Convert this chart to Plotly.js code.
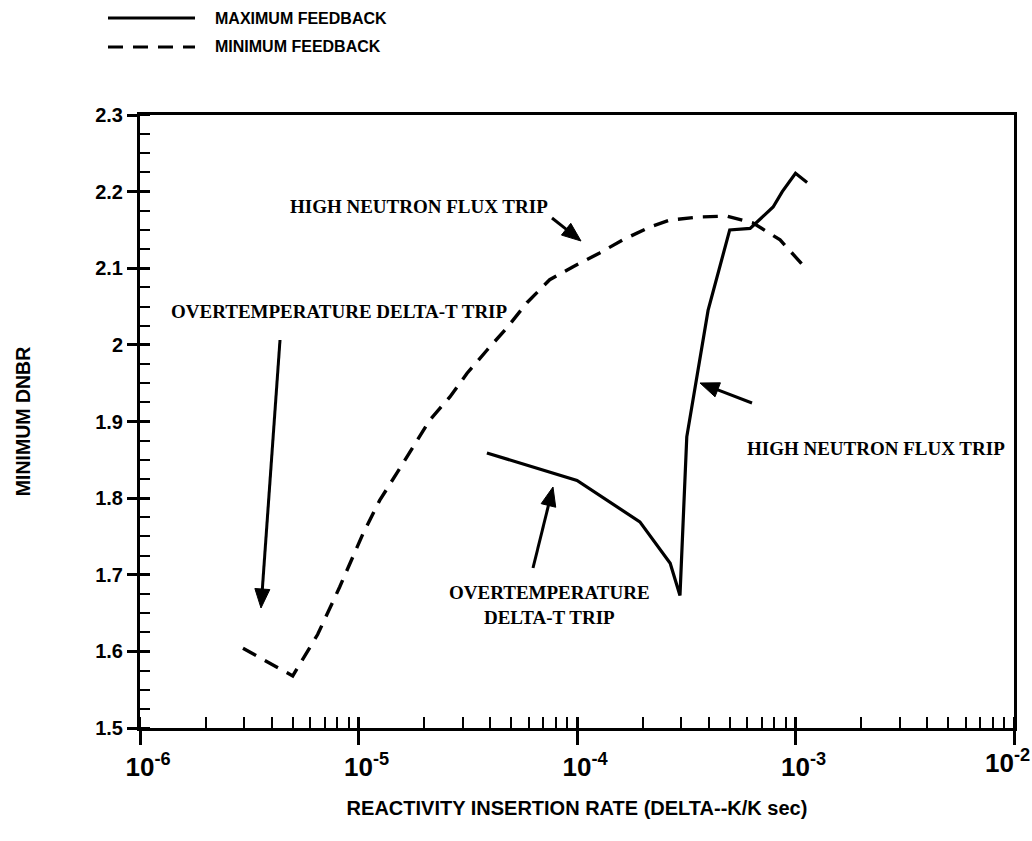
<!DOCTYPE html>
<html>
<head>
<meta charset="utf-8">
<script src="https://cdn.plot.ly/plotly-3.0.1.min.js"></script>
<style>html,body{margin:0;padding:0;background:#fff;}#chart{width:1032px;height:841px;}</style>
</head>
<body>
<div id="chart"></div>
<script>
// Reactivity insertion rate (delta-k/k per sec)
const minFeedbackRate = [2.96e-6, 5.0e-6, 6.5e-6, 8.2e-6, 1.05e-5, 1.25e-5, 1.5e-5, 1.77e-5, 2.12e-5, 2.62e-5, 3.14e-5, 3.87e-5, 4.8e-5, 5.9e-5, 7.5e-5, 9.6e-5, 1.27e-4, 1.62e-4, 2.16e-4, 2.67e-4, 3.66e-4, 4.86e-4, 6.4e-4, 8.5e-4, 1.13e-3];
const minFeedbackDNBR = [1.604, 1.568, 1.622, 1.684, 1.754, 1.797, 1.833, 1.867, 1.902, 1.932, 1.963, 1.993, 2.023, 2.055, 2.085, 2.102, 2.120, 2.137, 2.154, 2.163, 2.167, 2.168, 2.159, 2.137, 2.098];
const maxFeedbackRate = [3.87e-5, 1.0e-4, 1.94e-4, 2.67e-4, 2.96e-4, 3.18e-4, 3.98e-4, 5.0e-4, 6.2e-4, 7.9e-4, 8.7e-4, 1.0e-3, 1.13e-3];
const maxFeedbackDNBR = [1.859, 1.823, 1.769, 1.715, 1.673, 1.880, 2.045, 2.150, 2.152, 2.180, 2.200, 2.224, 2.212];
const seriesNames = ['MAXIMUM FEEDBACK', 'MINIMUM FEEDBACK'];
const noteLabels = ['HIGH NEUTRON FLUX TRIP', 'OVERTEMPERATURE DELTA-T TRIP', 'OVERTEMPERATURE<br>DELTA-T TRIP', 'HIGH NEUTRON FLUX TRIP'];
const xTickExponents = [-6, -5, -4, -3, -2];
const xTickLabels = ['10<sup>-6</sup>', '10<sup>-5</sup>', '10<sup>-4</sup>', '10<sup>-3</sup>', '10<sup>-2</sup>'];
const xRangeLog = [-6, -2];
const yRange = [1.5, 2.3];
const xTitle = 'REACTIVITY INSERTION RATE (DELTA--K/K sec)';
const yTitle = 'MINIMUM DNBR';

const sansFont = '"Liberation Sans", Arial, sans-serif';
const serifFont = '"Liberation Serif", "DejaVu Serif", serif';

const traces = [
  {x: maxFeedbackRate, y: maxFeedbackDNBR, name: seriesNames[0], mode: 'lines',
   line: {color: '#000', width: 3.2}, showlegend: false},
  {x: minFeedbackRate, y: minFeedbackDNBR, name: seriesNames[1], mode: 'lines',
   line: {color: '#000', width: 3.4, dash: '15px,10px'}, showlegend: false},
  {x: [], y: [], xaxis: 'x2', yaxis: 'y2', showlegend: false, hoverinfo: 'skip'}
];

const L = 140, R = 1014, T = 115, B = 728;
function px(p) { return (p - L) / (R - L); }
function py(p) { return (B - p) / (B - T); }

const annFontSerif = {family: serifFont, size: 19, color: '#000', weight: 'bold'};
const annFontSans = {family: sansFont, size: 16, color: '#000', weight: 'bold'};
const yTickFont = {family: sansFont, size: 20, color: '#000', weight: 'bold'};
const xTickFont = {family: sansFont, size: 26, color: '#000', weight: 'bold'};

const tickVals = xTickExponents.map(e => Math.pow(10, e));
const lastIdx = xTickLabels.length - 1;
const tickText = xTickLabels.map((t, i) => i === lastIdx ? '' : t);

const annotations = [
  {xref: 'x', yref: 'y', x: -4.723, y: 2.181, text: noteLabels[0], showarrow: false, font: annFontSerif},
  {xref: 'x', yref: 'y', x: -5.085, y: 2.044, text: noteLabels[1], showarrow: false, font: annFontSerif},
  {xref: 'x', yref: 'y', x: -4.124, y: 1.660, text: noteLabels[2], showarrow: false, font: annFontSerif},
  {xref: 'x', yref: 'y', x: -3.231, y: 1.865, xanchor: 'left', text: noteLabels[3], showarrow: false, font: annFontSerif},
  // last decade label, kept inside the page edge
  {xref: 'paper', yref: 'paper', x: px(1031), y: py(744), xanchor: 'right', yanchor: 'top', text: xTickLabels[lastIdx], showarrow: false, font: xTickFont, borderpad: 0},
  // legend texts
  {xref: 'paper', yref: 'paper', x: px(213), y: py(18), xanchor: 'left', yanchor: 'middle', text: seriesNames[0], showarrow: false, font: annFontSans},
  {xref: 'paper', yref: 'paper', x: px(213), y: py(47), xanchor: 'left', yanchor: 'middle', text: seriesNames[1], showarrow: false, font: annFontSans}
];

const shapes = [
  {type: 'line', xref: 'paper', yref: 'paper', x0: px(108), x1: px(195), y0: py(18), y1: py(18), line: {color: '#000', width: 3}},
  {type: 'line', xref: 'paper', yref: 'paper', x0: px(108), x1: px(195), y0: py(47), y1: py(47), line: {color: '#000', width: 3, dash: '15px,10px'}}
];

// annotation arrows (pixel positions of tail and tip)
const arrows = [
  [[552, 218], [581, 241]],
  [[280, 340], [261, 608]],
  [[533, 568], [553, 487]],
  [[752, 403], [700, 383]]
];
arrows.forEach(([tail, tip]) => {
  const dx = tip[0] - tail[0], dy = tip[1] - tail[1];
  const len = Math.hypot(dx, dy);
  const ux = dx / len, uy = dy / len;
  const headLen = 19, headHalf = 7.5;
  const bx = tip[0] - ux * headLen, by = tip[1] - uy * headLen;
  const p1 = [bx - uy * headHalf, by + ux * headHalf];
  const p2 = [bx + uy * headHalf, by - ux * headHalf];
  shapes.push({type: 'line', xref: 'paper', yref: 'paper',
    x0: px(tail[0]), y0: py(tail[1]), x1: px(bx + ux * 2), y1: py(by + uy * 2),
    line: {color: '#000', width: 3}});
  shapes.push({type: 'path', xref: 'paper', yref: 'paper',
    path: 'M ' + px(tip[0]) + ' ' + py(tip[1]) + ' L ' + px(p1[0]) + ' ' + py(p1[1]) + ' L ' + px(p2[0]) + ' ' + py(p2[1]) + ' Z',
    fillcolor: '#000', line: {color: '#000', width: 1}});
});

const layout = {
  width: 1032, height: 841,
  margin: {l: L, r: 1032 - R, t: T, b: 841 - B},
  paper_bgcolor: '#fff', plot_bgcolor: '#fff',
  font: {family: sansFont, color: '#000'},
  showlegend: false,
  xaxis: {
    type: 'log', range: xRangeLog, tickmode: 'array', tickvals: tickVals, ticktext: tickText,
    showgrid: false, zeroline: false,
    showline: true, linecolor: '#000', linewidth: 3, mirror: true,
    ticks: 'outside', ticklen: 14, tickwidth: 3, tickcolor: '#000',
    ticklabelshift: 8,
    minor: {dtick: 'D1', ticks: 'inside', ticklen: 11, tickwidth: 2, tickcolor: '#000', showgrid: false},
    tickfont: xTickFont,
    title: {text: xTitle, font: {family: sansFont, size: 20, weight: 'bold', color: '#000'}, standoff: 20}
  },
  yaxis: {
    range: yRange, dtick: 0.1, tick0: 1.5,
    showgrid: false, zeroline: false,
    showline: true, linecolor: '#000', linewidth: 3, mirror: true,
    ticks: 'outside', ticklen: 10, tickwidth: 3, tickcolor: '#000',
    minor: {dtick: 0.025, ticks: 'inside', ticklen: 10, tickwidth: 2, tickcolor: '#000', showgrid: false},
    tickfont: yTickFont,
    title: {text: yTitle, font: {family: sansFont, size: 19.5, weight: 'bold', color: '#000'}, standoff: 60}
  },
  xaxis2: {
    type: 'log', range: xRangeLog, tickmode: 'array', tickvals: tickVals, overlaying: 'x', anchor: 'y2', side: 'bottom',
    showgrid: false, zeroline: false, showline: false, showticklabels: false,
    ticks: 'inside', ticklen: 11, tickwidth: 3, tickcolor: '#000'
  },
  yaxis2: {
    range: yRange, dtick: 0.1, tick0: 1.5, overlaying: 'y', anchor: 'x2', side: 'left',
    showgrid: false, zeroline: false, showline: false, showticklabels: false,
    ticks: 'inside', ticklen: 10, tickwidth: 3, tickcolor: '#000'
  },
  annotations: annotations,
  shapes: shapes
};

Plotly.newPlot('chart', traces, layout, {displayModeBar: false, staticPlot: true});
</script>
</body>
</html>
